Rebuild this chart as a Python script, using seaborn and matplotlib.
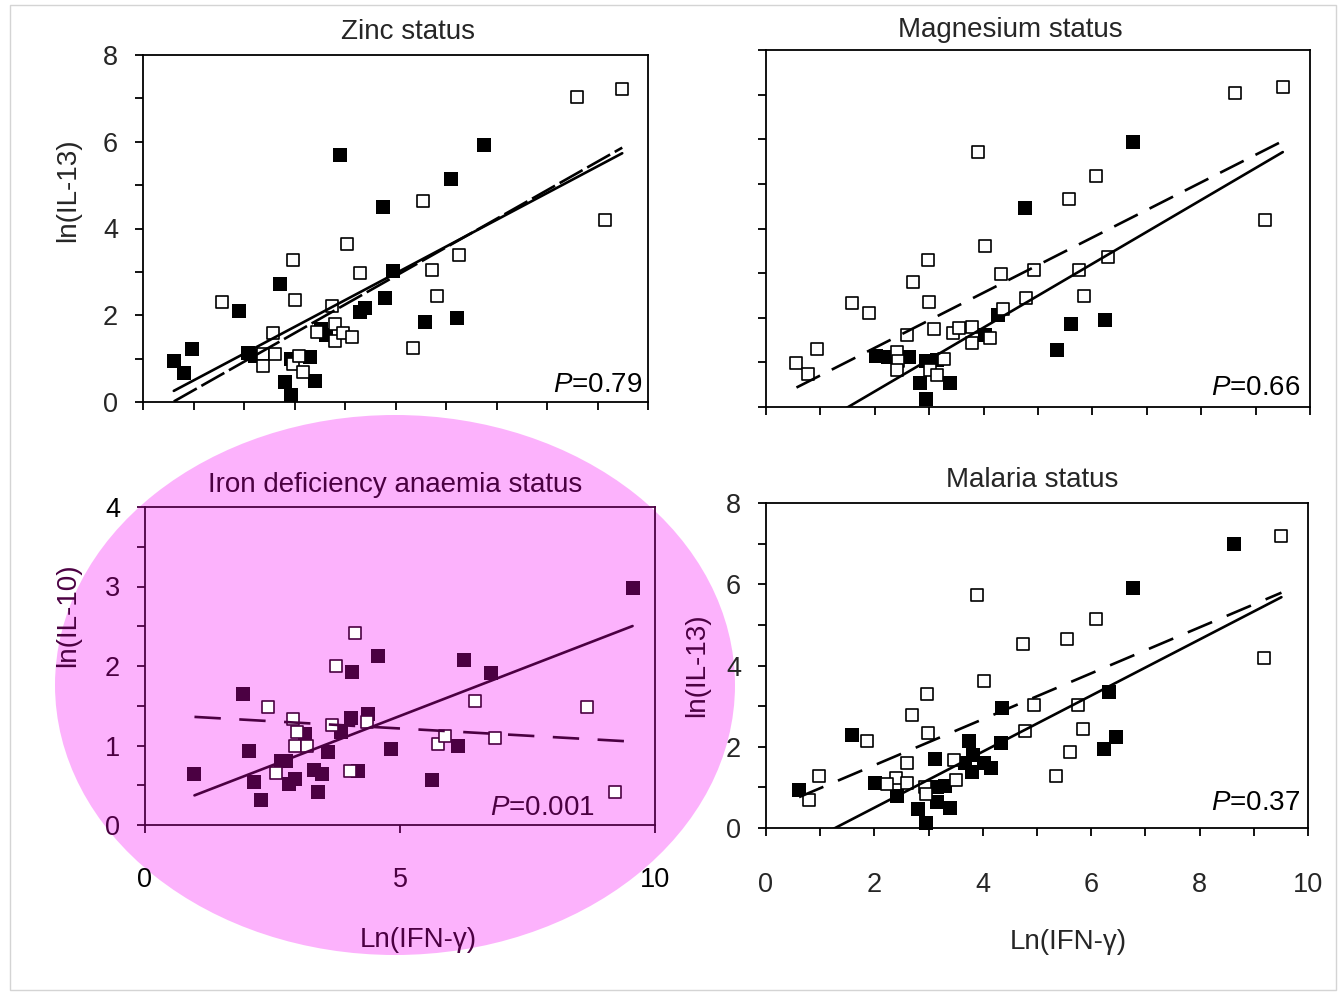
import numpy as np
import pandas as pd
import matplotlib
matplotlib.use("Agg")
import matplotlib.pyplot as plt
import seaborn as sns
from matplotlib.patches import Ellipse, Rectangle
from matplotlib.ticker import MultipleLocator
from matplotlib import font_manager

# --- data (x = ln(IFN-gamma)) ---
# Zinc status panel, ln(IL-13)
zinc_filled_x = [0.61, 0.82, 0.98, 1.91, 2.07, 2.22, 2.71, 2.82, 2.94, 2.94, 3.31, 3.40, 3.52, 3.62,
                 3.90, 4.29, 4.39, 4.76, 4.80, 4.96, 5.59, 6.09, 6.22, 6.75]
zinc_filled_y = [0.94, 0.67, 1.23, 2.10, 1.14, 1.06, 2.72, 0.46, 0.16, 1.00, 1.04, 0.48, 1.68, 1.55,
                 5.69, 2.08, 2.16, 4.49, 2.39, 3.01, 1.85, 5.13, 1.94, 5.93]
zinc_open_x = [1.57, 2.38, 2.38, 2.58, 2.61, 2.98, 3.01, 2.98, 3.08, 3.16, 3.44, 3.74, 3.80, 3.80,
               3.96, 4.13, 4.03, 4.29, 5.35, 5.54, 5.73, 5.83, 6.25, 8.60, 9.15, 9.49]
zinc_open_y = [2.31, 1.10, 0.83, 1.60, 1.10, 3.28, 2.35, 0.87, 1.06, 0.70, 1.62, 2.21, 1.80, 1.41,
               1.60, 1.50, 3.65, 2.97, 1.25, 4.64, 3.04, 2.45, 3.38, 7.04, 4.19, 7.21]

# Magnesium status panel, ln(IL-13)
mg_filled_x = [2.03, 2.25, 2.62, 2.94, 3.14, 2.83, 3.38, 2.94, 4.03, 4.27, 4.76, 5.35, 5.60, 6.23, 6.74]
mg_filled_y = [1.14, 1.13, 1.11, 1.04, 1.05, 0.53, 0.53, 0.19, 1.61, 2.06, 4.46, 1.27, 1.87, 1.96, 5.94]
mg_open_x = [0.56, 0.78, 0.94, 1.58, 1.90, 2.40, 2.43, 2.40, 2.59, 2.71, 2.97, 3.00, 3.09, 3.01,
             3.14, 3.28, 3.44, 3.55, 3.78, 3.78, 4.12, 3.90, 4.03, 4.32, 4.36, 4.78, 4.92, 5.57,
             5.75, 5.85, 6.07, 6.28, 8.62, 9.17, 9.50]
mg_open_y = [0.99, 0.75, 1.29, 2.33, 2.11, 1.24, 1.04, 0.83, 1.61, 2.80, 3.30, 2.36, 1.75, 0.83,
             0.72, 1.07, 1.65, 1.76, 1.80, 1.44, 1.54, 5.71, 3.61, 2.98, 2.19, 2.44, 3.06, 4.67,
             3.07, 2.49, 5.17, 3.37, 7.03, 4.20, 7.18]

# Iron deficiency anaemia status panel, ln(IL-10)
iron_filled_x = [0.97, 1.92, 2.04, 2.13, 2.28, 2.67, 2.77, 2.82, 2.94, 3.13, 3.32, 3.40, 3.48, 3.59,
                 3.84, 4.03, 4.06, 4.18, 4.37, 4.56, 4.82, 5.63, 6.13, 6.26, 6.78, 9.56]
iron_filled_y = [0.64, 1.65, 0.93, 0.54, 0.31, 0.80, 0.80, 0.51, 0.58, 1.14, 0.69, 0.41, 0.64, 0.92,
                 1.17, 1.35, 1.92, 0.68, 1.40, 2.13, 0.95, 0.57, 1.00, 2.08, 1.91, 2.98]
iron_open_x = [2.41, 2.57, 2.91, 2.98, 2.95, 3.17, 3.66, 3.74, 4.01, 4.11, 4.35, 5.75, 5.89, 6.47,
               6.87, 8.66, 9.21]
iron_open_y = [1.48, 0.66, 1.33, 1.17, 0.99, 0.99, 1.26, 2.00, 0.68, 2.42, 1.29, 1.02, 1.12, 1.56,
               1.09, 1.48, 0.42]

# Malaria status panel, ln(IL-13)
mal_filled_x = [0.61, 1.58, 2.02, 2.42, 2.80, 2.95, 3.11, 3.16, 3.30, 3.15, 3.40, 3.75, 3.81, 3.67,
                3.80, 4.02, 4.15, 4.33, 4.36, 6.33, 6.23, 6.45, 6.77, 8.64]
mal_filled_y = [0.94, 2.29, 1.12, 0.79, 0.48, 0.13, 1.70, 1.00, 1.03, 0.65, 0.49, 2.13, 1.80, 1.60,
                1.39, 1.60, 1.47, 2.09, 2.95, 3.35, 1.95, 2.24, 5.91, 7.00]
mal_open_x = [0.79, 0.97, 1.87, 2.61, 2.70, 2.99, 2.40, 2.23, 2.61, 2.93, 2.96, 3.50, 3.47, 2.97,
              3.89, 4.02, 4.77, 4.94, 4.75, 5.35, 5.56, 5.60, 5.75, 5.85, 6.08, 9.18, 9.51]
mal_open_y = [0.68, 1.28, 2.13, 1.60, 2.78, 2.35, 1.22, 1.09, 1.10, 1.02, 0.83, 1.18, 1.67, 3.29,
              5.73, 3.63, 2.40, 3.04, 4.52, 1.28, 4.66, 1.87, 3.04, 2.44, 5.15, 4.19, 7.20]

# regression lines as printed: (intercept, slope) for filled (solid) and open (dashed) groups
zinc_fit = [(-0.12, 0.617), (-0.39, 0.659)]
mg_fit = [(-1.08, 0.715), (0.09, 0.618)]
iron_fit = [(0.132, 0.248), (1.395, -0.0362)]
mal_fit = [(-0.88, 0.69), (0.415, 0.5655)]

titles = ["Zinc status", "Magnesium status", "Iron deficiency anaemia status", "Malaria status"]
p_values = ["0.79", "0.66", "0.001", "0.37"]

sns.set_style("ticks")
names = {f.name for f in font_manager.fontManager.ttflist}
if "Liberation Sans Narrow" in names:
    fam = "Liberation Sans Narrow"
    big, tick = 24, 22
else:
    fam = "Liberation Sans"
    big, tick = 20, 19.5
plt.rcParams["font.family"] = [fam, "DejaVu Sans"]
plt.rcParams["mathtext.fontset"] = "custom"
plt.rcParams["mathtext.it"] = fam + ":italic"
plt.rcParams["mathtext.rm"] = fam

purple = "#4b0042"
pink = "#fcb2fc"
W, H = 1339, 994

fig = plt.figure(figsize=(W / 100, H / 100), dpi=100)
fig.add_artist(Rectangle((10 / W, 4 / H), 1326 / W, 985 / H, transform=fig.transFigure,
                         facecolor="none", edgecolor="#d4d4d4", lw=1, zorder=-2))
fig.add_artist(Ellipse((395 / W, 1 - 685 / H), 680 / W, 540 / H, transform=fig.transFigure,
                       facecolor=pink, edgecolor="none", zorder=-1))


def axes_px(l, t, r, b):
    return fig.add_axes([l / W, 1 - b / H, (r - l) / W, (b - t) / H])


ax_zn = axes_px(143, 55, 648, 402)
ax_mg = axes_px(766, 50, 1310, 407)
ax_fe = axes_px(145, 507, 655, 825)
ax_ml = axes_px(766, 503, 1308, 828)


def panel(ax, fx, fy, ox, oy, fit, col, dash):
    sns.scatterplot(x=fx, y=fy, marker="s", s=95, color=col, edgecolor=col, linewidth=0,
                    ax=ax, clip_on=False, zorder=2)
    sns.scatterplot(x=ox, y=oy, marker="s", s=68, color="white", edgecolor=col, linewidth=1.2,
                    ax=ax, clip_on=False, zorder=3)
    allx = np.concatenate([fx, ox])
    xs = np.array([allx.min(), allx.max()])
    (a0, b0), (a1, b1) = fit
    ax.plot(xs, a0 + b0 * xs, color=col, lw=1.9, zorder=4)
    ax.plot(xs, a1 + b1 * xs, color=col, lw=1.9, dashes=dash, zorder=4)
    for s in ax.spines.values():
        s.set_visible(True)
        s.set_color(col)
        s.set_linewidth(1.3)
    ax.tick_params(which="both", direction="out", length=6, width=1.3, color=col,
                   labelsize=tick)
    ax.set_xlabel("")
    ax.set_ylabel("")


panel(ax_zn, zinc_filled_x, zinc_filled_y, zinc_open_x, zinc_open_y, zinc_fit, "black", (10, 2))
panel(ax_mg, mg_filled_x, mg_filled_y, mg_open_x, mg_open_y, mg_fit, "black", (10, 5))
panel(ax_fe, iron_filled_x, iron_filled_y, iron_open_x, iron_open_y, iron_fit, purple, (10, 7))
panel(ax_ml, mal_filled_x, mal_filled_y, mal_open_x, mal_open_y, mal_fit, "black", (10, 6))

for ax in [ax_zn, ax_mg, ax_ml]:
    ax.set_xlim(0, 10)
    ax.set_ylim(0, 8)
    ax.xaxis.set_major_locator(MultipleLocator(1))
    ax.yaxis.set_major_locator(MultipleLocator(2))
    ax.yaxis.set_minor_locator(MultipleLocator(1))
ax_mg.yaxis.set_major_locator(MultipleLocator(1))
ax_ml.xaxis.set_major_locator(MultipleLocator(2))
ax_ml.xaxis.set_minor_locator(MultipleLocator(1))

ax_zn.tick_params(axis="x", labelbottom=False)
ax_zn.tick_params(axis="y", pad=12)
ax_mg.tick_params(labelbottom=False, labelleft=False)
ax_ml.tick_params(axis="y", pad=12)
ax_ml.tick_params(axis="x", pad=26)

ax_fe.set_facecolor("none")
ax_fe.set_xlim(0, 10)
ax_fe.set_ylim(0, 4)
ax_fe.set_xticks([0, 5, 10])
ax_fe.set_yticks([0, 1, 2, 3, 4])
ax_fe.yaxis.set_minor_locator(MultipleLocator(0.5))
ax_fe.tick_params(axis="y", pad=12)
ax_fe.tick_params(axis="x", pad=24)
for lab, c in zip(ax_fe.get_yticklabels(), [purple, purple, purple, purple, "black"]):
    lab.set_color(c)
for lab, c in zip(ax_fe.get_xticklabels(), ["black", purple, "black"]):
    lab.set_color(c)

# titles
ax_zn.set_title(titles[0], x=0.525, y=1.066, pad=0, va="center", fontsize=big)
ax_mg.set_title(titles[1], x=0.449, y=1.056, pad=0, va="center", fontsize=big)
ax_fe.set_title(titles[2], x=0.490, y=1.069, pad=0, va="center", fontsize=big, color=purple)
ax_ml.set_title(titles[3], x=0.491, y=1.071, pad=0, va="center", fontsize=big)

# axis labels
ax_zn.text(-0.1485, 0.611, "ln(IL-13)", rotation=90, ha="center", va="center",
           transform=ax_zn.transAxes, fontsize=big)
ax_fe.text(-0.151, 0.660, "ln(IL-10)", rotation=90, ha="center", va="center",
           transform=ax_fe.transAxes, fontsize=big, color=purple)
ax_ml.text(-0.127, 0.50, "ln(IL-13)", rotation=90, ha="center", va="center",
           transform=ax_ml.transAxes, fontsize=big, color=purple)
ax_fe.text(0.535, -0.362, "Ln(IFN-γ)", ha="center", va="center",
           transform=ax_fe.transAxes, fontsize=big, color=purple)
ax_ml.text(0.557, -0.351, "Ln(IFN-γ)", ha="center", va="center",
           transform=ax_ml.transAxes, fontsize=big)

# P values
for ax, p, x, y, c in [(ax_zn, p_values[0], 0.988, 0.049, "black"),
                       (ax_mg, p_values[1], 0.982, 0.053, "black"),
                       (ax_fe, p_values[2], 0.882, 0.053, purple),
                       (ax_ml, p_values[3], 0.985, 0.077, "black")]:
    ax.text(x, y, "$\\it{P}$=" + p, ha="right", va="center", transform=ax.transAxes,
            fontsize=big, color=c, zorder=5)

fig.savefig("out.png", dpi=100)
